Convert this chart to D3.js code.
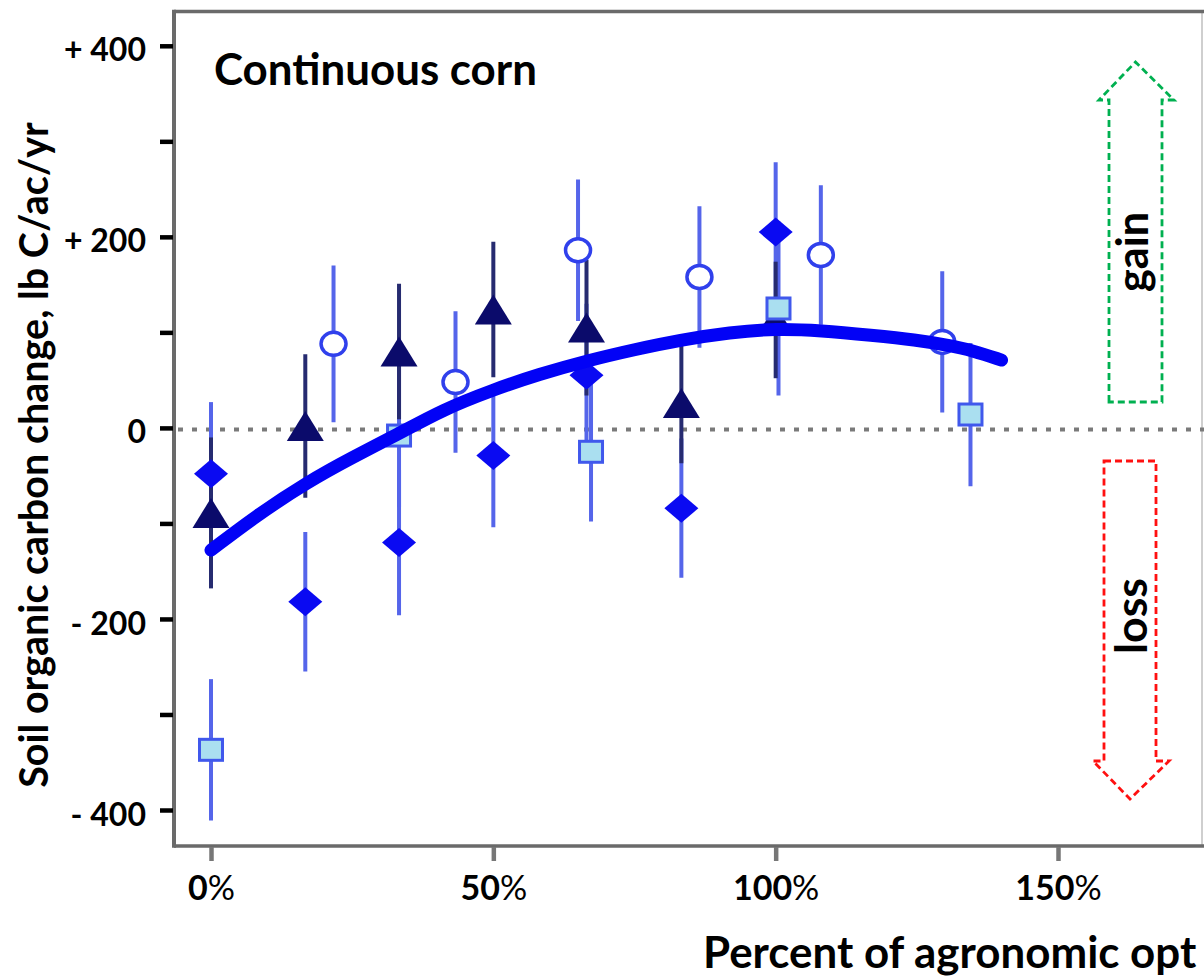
<!DOCTYPE html>
<html>
<head>
<meta charset="utf-8">
<title>Continuous corn – soil organic carbon change</title>
<script src="https://cdn.jsdelivr.net/npm/d3@7"></script>
<style>
  html, body { margin: 0; padding: 0; background: #fff; overflow: hidden; }
  svg { display: block; font-family: Lato, "Open Sans", "DejaVu Sans", sans-serif; }
</style>
</head>
<body>
<svg id="chart" width="1204" height="980"></svg>
<script>
// ---- Data: N rate (% of agronomic optimum) vs. SOC change (lb C/ac/yr) ----

// Filled diamonds
const diamondX   = [0, 16.7, 33.3, 50, 66.5, 83.3, 100];
const diamondY   = [-48, -182, -120, -29, 55, -84, 205];
const diamondErr = [75, 73, 76, 75, 75, 73, 73];

// Filled triangles
const triangleX   = [0, 16.7, 33.3, 50, 66.5, 83.3, 100];
const triangleY   = [-89, 2, 80, 124, 105, 26, 113];
const triangleErr = [79, 75, 71, 71, 71, 63, 61];

// Open circles
const circleX   = [21.7, 43.3, 65, 86.5, 108, 129.5];
const circleY   = [88, 48, 186, 158, 181, 90];
const circleErr = [82, 74, 74, 74, 73, 74];

// Light squares
const squareX   = [0, 33.3, 67.3, 100.5, 134.5];
const squareY   = [-337, -8, -25, 125, 14];
const squareErr = [74, 75, 73, 91, 75];

// Fitted response curve
const fitX = [0, 8, 17, 25, 33, 41, 50, 58, 67, 75, 83, 92, 100, 108, 117, 125, 130, 135, 140];
const fitY = [-128, -92, -57, -31, -7, 19, 40, 56, 71, 82, 92, 100, 104, 102, 97, 92, 87, 81, 71];

// Axis ticks
const xTicks       = [0, 50, 100, 150];
const xTickLabels  = ["0", "50", "100", "150"];
const yMajorTicks  = [400, 200, 0, -200, -400];
const yTickLabels  = ["+ 400", "+ 200", "0", "- 200", "- 400"];
const yMinorTicks  = [300, 100, -100, -300];

// Text
const panelTitle = "Continuous corn";
const yTitle = "Soil organic carbon change, lb C/ac/yr";
const xTitle = "Percent of agronomic opt";

// ---- Layout ----
const W = 1204, H = 980;
const frame = { left: 174, top: 11.5, bottom: 846, right: 1202 };

const svg = d3.select("#chart");

const x = d3.scaleLinear().domain([0, 150]).range([211, 1058]);
const y = d3.scaleLinear().domain([-400, 400]).range([810, 45.8]);

const COL = {
  diamond: "#0a0af2",
  triangle: "#0b0b6b",
  circleStroke: "#3040ec",
  squareFill: "#aadff0",
  squareStroke: "#4058ec",
  barLight: "#5565ea",
  barDark: "#262b70",
  curve: "#0202f6",
  frame: "#6a6a6a"
};

const fitTo = (sel, target) => {
  const fs = parseFloat(sel.attr("font-size"));
  const w = sel.node().getComputedTextLength();
  const nfs = fs * target / w;
  sel.attr("font-size", nfs);
  return nfs;
};

// ---- Plot frame ----
const frameG = svg.append("g");
frameG.append("rect")
  .attr("x", frame.left).attr("y", frame.top)
  .attr("width", W - frame.left + 10).attr("height", frame.bottom - frame.top)
  .attr("fill", "#fff");
frameG.append("line")
  .attr("x1", frame.right).attr("x2", frame.right)
  .attr("y1", frame.top).attr("y2", frame.bottom)
  .attr("stroke", "#cfcfcf").attr("stroke-width", 2);
frameG.append("line")
  .attr("x1", frame.left).attr("x2", W + 5)
  .attr("y1", frame.top).attr("y2", frame.top)
  .attr("stroke", COL.frame).attr("stroke-width", 3.5);
frameG.append("line")
  .attr("x1", frame.left).attr("x2", W + 5)
  .attr("y1", frame.bottom).attr("y2", frame.bottom)
  .attr("stroke", COL.frame).attr("stroke-width", 3.5);
frameG.append("line")
  .attr("x1", frame.left).attr("x2", frame.left)
  .attr("y1", frame.top - 1.75).attr("y2", frame.bottom + 1.75)
  .attr("stroke", COL.frame).attr("stroke-width", 4);

// zero reference line
svg.append("line")
  .attr("x1", frame.left + 4).attr("x2", W + 5)
  .attr("y1", y(0) + 1.5).attr("y2", y(0) + 1.5)
  .attr("stroke", "#7a7a7a").attr("stroke-width", 4)
  .attr("stroke-dasharray", "5,9");

// ---- Y axis ----
const tickFs = 32;
const yAxis = svg.append("g")
  .attr("transform", `translate(${frame.left - 1},0)`)
  .call(d3.axisLeft(y).tickValues(yMajorTicks).tickSize(13).tickPadding(14)
    .tickFormat((d, i) => yTickLabels[i]));
yAxis.select(".domain").remove();
yAxis.selectAll(".tick line").attr("stroke", "#000").attr("stroke-width", 4.5);
yAxis.selectAll(".tick text")
  .attr("font-family", "Lato, 'Open Sans', sans-serif")
  .attr("font-weight", 700).attr("font-size", tickFs)
  .attr("fill", "#000").attr("dy", tickFs * 0.33 + 4.5);

const yMinor = svg.append("g")
  .attr("transform", `translate(${frame.left - 1},0)`)
  .call(d3.axisLeft(y).tickValues(yMinorTicks).tickSize(13).tickFormat(""));
yMinor.select(".domain").remove();
yMinor.selectAll(".tick line").attr("stroke", "#000").attr("stroke-width", 4.5);

// ---- X axis ----
const xFs = 34;
const xAxis = svg.append("g")
  .attr("transform", `translate(0,${frame.bottom + 1})`)
  .call(d3.axisBottom(x).tickValues(xTicks).tickSize(14).tickFormat((d, i) => xTickLabels[i]));
xAxis.select(".domain").remove();
xAxis.selectAll(".tick line").attr("stroke", "#777").attr("stroke-width", 4.5);
xAxis.selectAll(".tick text")
  .attr("font-family", "Lato, 'Open Sans', sans-serif")
  .attr("font-weight", 700).attr("font-size", xFs).attr("fill", "#000")
  .attr("y", 53).attr("dy", 0)
  .append("tspan").attr("font-weight", 400).text("%");

// ---- Error bars ----
const barsG = svg.append("g");
function errorBars(xs, ys, es, color) {
  barsG.selectAll(null)
    .data(xs.map((v, i) => ({ x: v, y: ys[i], e: es[i] })))
    .join("line")
    .attr("x1", d => x(d.x)).attr("x2", d => x(d.x))
    .attr("y1", d => y(d.y + d.e)).attr("y2", d => y(d.y - d.e))
    .attr("stroke", color).attr("stroke-width", 4)
    .attr("stroke-linecap", "butt");
}
errorBars(squareX, squareY, squareErr, COL.barLight);
errorBars(diamondX, diamondY, diamondErr, COL.barLight);
errorBars(circleX, circleY, circleErr, COL.barLight);
errorBars(triangleX, triangleY, triangleErr, COL.barDark);

// ---- Markers ----
const markG = svg.append("g");
const pts = (xs, ys) => xs.map((v, i) => ({ x: v, y: ys[i] }));

// triangles
markG.selectAll(null).data(pts(triangleX, triangleY)).join("path")
  .attr("d", d => {
    const cx = x(d.x), cy = y(d.y), hw = 18.5, hh = 15;
    return `M${cx},${cy - hh}L${cx + hw},${cy + hh}L${cx - hw},${cy + hh}Z`;
  })
  .attr("fill", COL.triangle);

// diamonds
markG.selectAll(null).data(pts(diamondX, diamondY)).join("path")
  .attr("d", d => {
    const cx = x(d.x), cy = y(d.y), hw = 17, hh = 14.5;
    return `M${cx},${cy - hh}L${cx + hw},${cy}L${cx},${cy + hh}L${cx - hw},${cy}Z`;
  })
  .attr("fill", COL.diamond);

// open circles
markG.selectAll(null).data(pts(circleX, circleY)).join("ellipse")
  .attr("cx", d => x(d.x)).attr("cy", d => y(d.y))
  .attr("rx", 12.5).attr("ry", 11.5)
  .attr("fill", "#fff").attr("stroke", COL.circleStroke).attr("stroke-width", 3.5);

// squares
markG.selectAll(null).data(pts(squareX, squareY)).join("rect")
  .attr("x", d => x(d.x) - 11.5).attr("y", d => y(d.y) - 10.5)
  .attr("width", 23).attr("height", 21)
  .attr("fill", COL.squareFill).attr("stroke", COL.squareStroke).attr("stroke-width", 3);

// ---- Fitted curve ----
const line = d3.line()
  .x(d => x(d[0])).y(d => y(d[1]))
  .curve(d3.curveBasis);
svg.append("path")
  .datum(fitX.map((v, i) => [v, fitY[i]]))
  .attr("d", line)
  .attr("fill", "none").attr("stroke", COL.curve)
  .attr("stroke-width", 13).attr("stroke-linecap", "round").attr("stroke-linejoin", "round");

// ---- Gain / loss arrows ----
const arrows = svg.append("g").attr("fill", "none").attr("stroke-width", 2.8)
  .attr("stroke-dasharray", "7,4");
arrows.append("path")
  .attr("d", "M1109,402 L1109,100 L1099,100 L1135.5,62 L1174,100 L1162,100 L1162,402 Z")
  .attr("stroke", "#00b050");
arrows.append("path")
  .attr("d", "M1104,461 L1156,461 L1156,761 L1169,761 L1130,799 L1093,761 L1104,761 Z")
  .attr("stroke", "#ff1010");

// ---- Text ----
const titleFs = 42;
const title = svg.append("text")
  .attr("x", 214).attr("y", 85)
  .attr("font-weight", 700).attr("font-size", titleFs).attr("fill", "#000")
  .text(panelTitle);
const tFs = fitTo(title, 323);

const xt = svg.append("text")
  .attr("x", 703).attr("y", 968)
  .attr("font-weight", 700).attr("font-size", tFs).attr("fill", "#000")
  .text(xTitle);
if (xt.node().getComputedTextLength() > W - 706) fitTo(xt, W - 706);

const yt = svg.append("text")
  .attr("transform", "translate(48,455) rotate(-90)")
  .attr("text-anchor", "middle")
  .attr("font-weight", 700).attr("font-size", titleFs).attr("fill", "#000")
  .text(yTitle);
fitTo(yt, 666);

const gain = svg.append("text")
  .attr("transform", "translate(1148,252) rotate(-90)")
  .attr("text-anchor", "middle")
  .attr("font-weight", 700).attr("font-size", titleFs).attr("fill", "#000")
  .text("gain");
fitTo(gain, 80);

const loss = svg.append("text")
  .attr("transform", "translate(1147,616) rotate(-90)")
  .attr("text-anchor", "middle")
  .attr("font-weight", 700).attr("font-size", titleFs).attr("fill", "#000")
  .text("loss");
fitTo(loss, 76);
</script>
</body>
</html>
